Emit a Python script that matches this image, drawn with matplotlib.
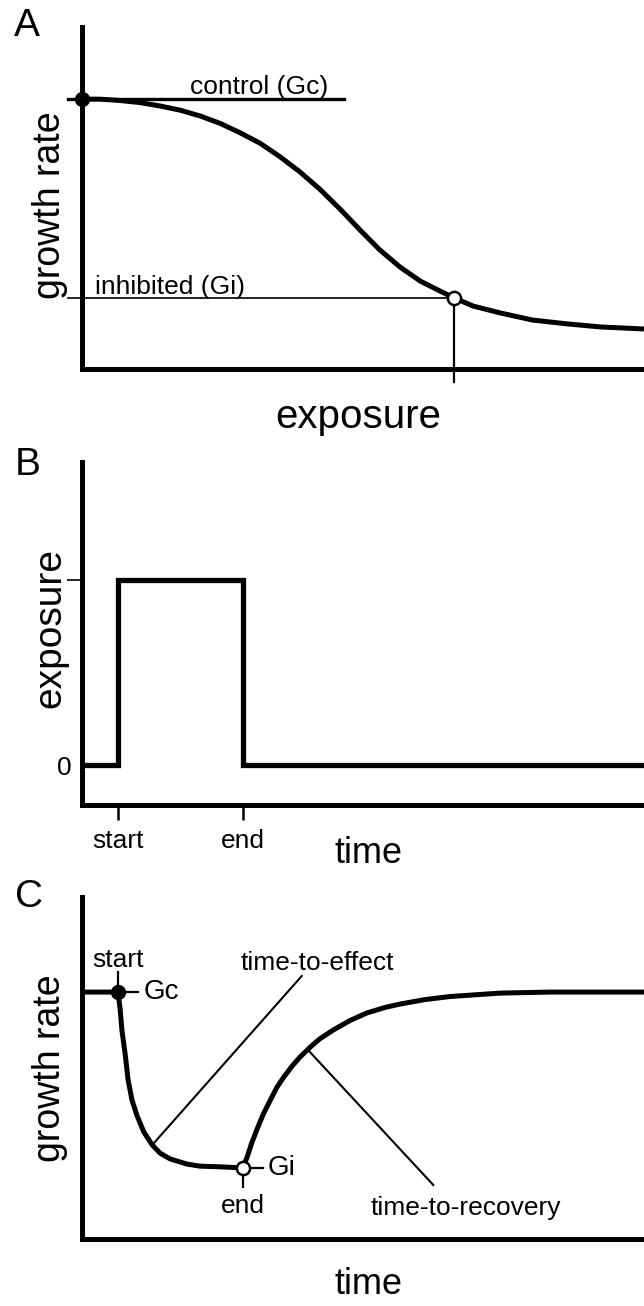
import matplotlib
matplotlib.use('Agg')
import matplotlib.pyplot as plt

plt.rcParams['font.family'] = ['Liberation Sans', 'DejaVu Sans']

# panel A: growth rate vs exposure (arbitrary units, 0-10)
a_x = [0, 0.32, 0.68, 1.03, 1.39, 1.74, 2.10, 2.46, 2.81, 3.17, 3.52, 3.88, 4.23, 4.59,
       4.95, 5.30, 5.66, 6.02, 6.37, 6.62, 6.96, 7.44, 8.02, 8.63, 9.22, 10]
a_y = [7.89, 7.89, 7.85, 7.79, 7.69, 7.57, 7.40, 7.18, 6.91, 6.60, 6.21, 5.76, 5.26, 4.68,
       4.06, 3.48, 2.98, 2.57, 2.28, 2.08, 1.84, 1.64, 1.43, 1.32, 1.23, 1.17]
a_gc = 7.89
a_gi = 2.08
a_ec = 6.62

# panel B: exposure pulse vs time
b_start = 0.64
b_end = 2.865
b_x = [0, b_start, b_start, b_end, b_end, 10]
b_y = [0, 0, 1, 1, 0, 0]

# panel C: growth rate vs time
c_x = [0, 0.64, 0.68, 0.71, 0.77, 0.82, 0.89, 0.98, 1.10, 1.25, 1.39, 1.57, 1.87, 2.10, 2.46, 2.86,
       2.94, 3.02, 3.11, 3.22, 3.35, 3.47, 3.58, 3.74, 3.88, 4.06, 4.23, 4.47, 4.77, 5.07,
       5.39, 5.66, 6.10, 6.55, 7.44, 8.33, 10]
c_y = [7.22, 7.22, 6.70, 6.11, 5.38, 4.65, 4.06, 3.60, 3.13, 2.75, 2.51, 2.34, 2.19, 2.13, 2.11, 2.08,
       2.40, 2.81, 3.19, 3.63, 4.06, 4.44, 4.71, 5.06, 5.32, 5.61, 5.85, 6.11, 6.39, 6.61,
       6.77, 6.87, 7.00, 7.09, 7.19, 7.22, 7.22]
c_gc = 7.22
c_gi = 2.08
c_start = 0.64
c_end = 2.86

fig = plt.figure(figsize=(6.44, 13.06), dpi=100)

axA = fig.add_axes([0.12733, 0.71746, 0.87267, 0.26187])
axB = fig.add_axes([0.12733, 0.38361, 0.87267, 0.26263])
axC = fig.add_axes([0.12733, 0.05130, 0.87267, 0.26187])

for ax in [axA, axB, axC]:
    for s in ['top', 'right']:
        ax.spines[s].set_visible(False)
    for s in ['left', 'bottom']:
        ax.spines[s].set_linewidth(3.6)
        ax.spines[s].set_capstyle('projecting')
    ax.set_xlim(0, 10)

# ---- A ----
axA.set_ylim(0, 10)
axA.set_xticks([])
axA.set_yticks([])
axA.plot([-0.25, 4.66], [a_gc, a_gc], color='k', lw=2.4, clip_on=False)
axA.plot([-0.25, a_ec], [a_gi, a_gi], color='k', lw=1.2, clip_on=False)
axA.plot([a_ec, a_ec], [a_gi, -0.38], color='k', lw=1.6, clip_on=False)
axA.plot(a_x, a_y, color='k', lw=3.6, solid_capstyle='butt', solid_joinstyle='round')
axA.plot([0], [a_gc], 'o', color='k', ms=10, clip_on=False, zorder=5)
axA.plot([a_ec], [a_gi], 'o', mfc='white', mec='k', mew=1.8, ms=9.5, clip_on=False, zorder=5)
axA.text(3.15, 8.25, 'control (Gc)', fontsize=19, ha='center', va='center')
axA.text(1.57, 2.40, 'inhibited (Gi)', fontsize=19, ha='center', va='center')
axA.set_xlabel('exposure', fontsize=29, va='center')
axA.xaxis.set_label_coords(0.492, -0.140)
axA.set_ylabel('growth rate', fontsize=27, va='center')
axA.yaxis.set_label_coords(-0.057, 0.48)

# ---- B ----
axB.set_ylim(-0.216, 1.638)
axB.plot(b_x, b_y, color='k', lw=3.8, solid_joinstyle='miter')
axB.set_xticks([b_start, b_end])
axB.set_xticklabels(['start', 'end'], fontsize=19)
axB.tick_params(axis='x', length=11, width=1.8, pad=6)
axB.set_yticks([0, 1])
axB.set_yticklabels(['0', ''], fontsize=19)
axB.tick_params(axis='y', length=11, width=1.2, pad=-3.5)
axB.yaxis.get_major_ticks()[0].tick1line.set_visible(False)
axB.set_xlabel('time', fontsize=26, va='center')
axB.xaxis.set_label_coords(0.509, -0.140)
axB.set_ylabel('exposure', fontsize=28, va='center')
axB.yaxis.set_label_coords(-0.057, 0.516)

# ---- C ----
axC.set_ylim(0, 10)
axC.set_xticks([])
axC.set_yticks([])
axC.plot([1.25, 3.91], [2.75, 7.69], color='k', lw=1.5)
axC.plot([4.02, 6.25], [5.53, 1.58], color='k', lw=1.5)
axC.plot(c_x, c_y, color='k', lw=3.6, solid_capstyle='butt', solid_joinstyle='round')
axC.plot([c_start, c_start], [c_gc, c_gc + 0.6], color='k', lw=1.6)
axC.plot([c_start, c_start + 0.36], [c_gc, c_gc], color='k', lw=1.6)
axC.plot([c_end, c_end], [c_gi, c_gi - 0.55], color='k', lw=1.6)
axC.plot([c_end, c_end + 0.36], [c_gi, c_gi], color='k', lw=1.6)
axC.plot([c_start], [c_gc], 'o', color='k', ms=10, zorder=5)
axC.plot([c_end], [c_gi], 'o', mfc='white', mec='k', mew=1.8, ms=9.5, zorder=5)
axC.text(c_start, 8.16, 'start', fontsize=19, ha='center', va='center')
axC.text(1.09, c_gc, 'Gc', fontsize=20, ha='left', va='center')
axC.text(3.31, c_gi, 'Gi', fontsize=20, ha='left', va='center')
axC.text(c_end, 0.96, 'end', fontsize=19, ha='center', va='center')
axC.text(4.18, 8.07, 'time-to-effect', fontsize=19, ha='center', va='center')
axC.text(6.83, 0.91, 'time-to-recovery', fontsize=19, ha='center', va='center')
axC.set_xlabel('time', fontsize=26, va='center')
axC.xaxis.set_label_coords(0.509, -0.134)
axC.set_ylabel('growth rate', fontsize=27, va='center')
axC.yaxis.set_label_coords(-0.057, 0.5)

fig.text(27 / 644, 1 - 26 / 1306, 'A', fontsize=28, ha='center', va='center')
fig.text(28 / 644, 1 - 465 / 1306, 'B', fontsize=28, ha='center', va='center')
fig.text(29 / 644, 1 - 897 / 1306, 'C', fontsize=28, ha='center', va='center')

fig.savefig('out.png', dpi=100)
